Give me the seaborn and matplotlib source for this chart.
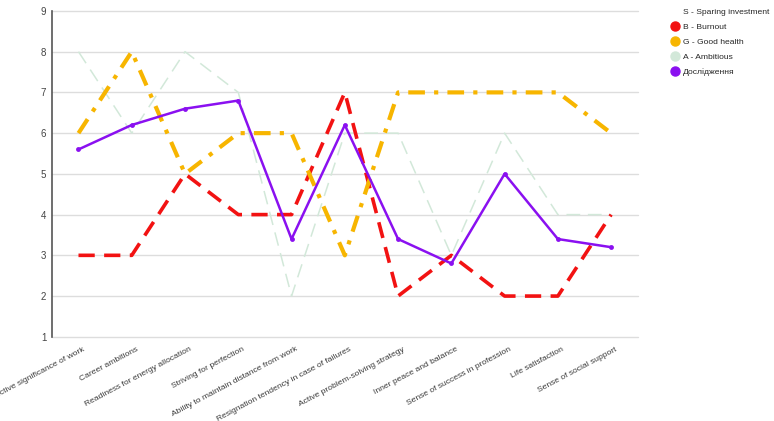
import matplotlib
matplotlib.use("Agg")
import matplotlib.pyplot as plt
import matplotlib.transforms as mtransforms
from matplotlib.lines import Line2D
import seaborn as sns
import pandas as pd

categories = [
    "Subjective significance of work",
    "Career ambitions",
    "Readiness for energy allocation",
    "Striving for perfection",
    "Ability to maintain distance from work",
    "Resignation tendency in case of failures",
    "Active problem-solving strategy",
    "Inner peace and balance",
    "Sense of success in profession",
    "Life satisfaction",
    "Sense of social support",
]
burnout = [3, 3, 5, 4, 4, 7, 2, 3, 2, 2, 4]
good_health = [6, 8, 5, 6, 6, 3, 7, 7, 7, 7, 6]
ambitious = [8, 6, 8, 7, 2, 6, 6, 3, 6, 4, 4]
study = [5.6, 6.2, 6.6, 6.8, 3.4, 6.2, 3.4, 2.8, 5.0, 3.4, 3.2]
y_ticks = [1, 2, 3, 4, 5, 6, 7, 8, 9]

legend_labels = ["S - Sparing investment", "B - Burnout", "G - Good health",
                 "A - Ambitious", "Дослідження"]

sns.set_theme(style="white")
plt.rcParams["font.family"] = ["Liberation Sans", "DejaVu Sans"]

fig = plt.figure(figsize=(7.74, 4.21), dpi=100)
ax = fig.add_axes([0.067, 0.2, 0.757, 0.774])

df = pd.DataFrame({"cat": categories, "B": burnout, "G": good_health,
                   "A": ambitious, "D": study})

RED = "#f21212"
ORANGE = "#f7b500"
GREEN = "#d2e8d9"
PURPLE = "#8a10f0"

sns.lineplot(data=df, x="cat", y="A", ax=ax, color=GREEN, lw=1.1,
             linestyle=(0, (9, 5)), sort=False)
sns.lineplot(data=df, x="cat", y="B", ax=ax, color=RED, lw=2.6,
             linestyle=(0, (4.5, 2.6)), sort=False)
sns.lineplot(data=df, x="cat", y="G", ax=ax, color=ORANGE, lw=3.0,
             linestyle=(0, (4, 2.2, 1, 2.2)), sort=False)
sns.lineplot(data=df, x="cat", y="D", ax=ax, color=PURPLE, lw=1.8,
             marker="o", markersize=3.5, markeredgewidth=0, sort=False)

ax.set_xlim(-0.5, len(categories) - 0.5)
ax.set_ylim(1, 9)
ax.set_yticks(y_ticks)
ax.set_yticklabels([str(t) for t in y_ticks], fontsize=7, color="#444444")
ax.set_xticks(range(len(categories)))
ax.set_xticklabels([])
ax.tick_params(axis="x", length=0)
ax.tick_params(axis="y", length=0, pad=4)

# rotated category labels, ending slightly right of each tick
base = mtransforms.blended_transform_factory(ax.transData, ax.transAxes)
offset = mtransforms.ScaledTranslation(4 / 100, -9 / 100, fig.dpi_scale_trans)
for i, name in enumerate(categories):
    ax.text(i, 0, name, transform=base + offset, rotation=28,
            rotation_mode="anchor", ha="right", va="top",
            fontsize=6.1, color="#3a3a3a")

ax.set_xlabel("")
ax.set_ylabel("")
ax.grid(axis="y", color="#dddddd", lw=1)
for gl in ax.get_ygridlines():
    gl.set_clip_on(False)
ax.set_axisbelow(True)
for side in ["top", "right", "bottom"]:
    ax.spines[side].set_visible(False)
ax.spines["left"].set_color("#555555")
ax.spines["left"].set_linewidth(1.2)

handles = [
    Line2D([], [], marker="o", linestyle="", color="white", markersize=6.5),
    Line2D([], [], marker="o", linestyle="", color=RED, markersize=6.5),
    Line2D([], [], marker="o", linestyle="", color=ORANGE, markersize=6.5),
    Line2D([], [], marker="o", linestyle="", color=GREEN, markersize=6.5),
    Line2D([], [], marker="o", linestyle="", color=PURPLE, markersize=6.5),
]
fig.legend(handles, legend_labels, loc="upper left", bbox_to_anchor=(0.862, 0.99),
           frameon=False, fontsize=6.1, handletextpad=0.45, labelspacing=0.85,
           borderaxespad=0, handlelength=1.0)

fig.savefig("out.png", dpi=100)
